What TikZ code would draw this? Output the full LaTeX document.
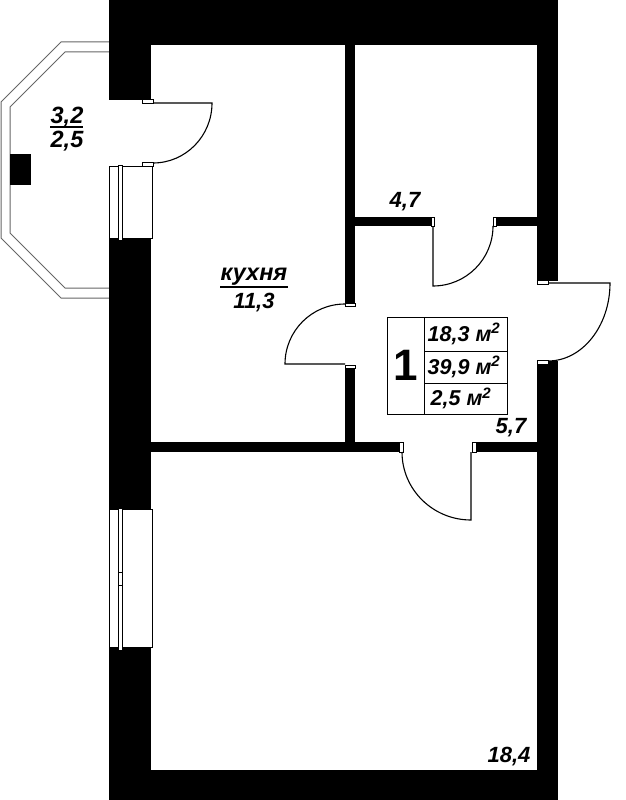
\documentclass[tikz,border=0pt]{standalone}
\usepackage{fontspec}
\setmainfont{Liberation Sans}
\usetikzlibrary{positioning}

\begin{document}
\begin{tikzpicture}[x=1pt,y=-1pt,
wall/.style={fill=black},
jamb/.style={draw,fill=white,line width=.8pt},
leaf/.style={draw,line width=1.1pt},
glass/.style={draw,fill=white,line width=1pt},
balcony/.style={draw=black!60,line width=1pt},
area/.style={inner sep=0pt,font=\fontsize{22}{22}\selectfont\bfseries\itshape},
box/.style={draw,line width=1pt,inner sep=0pt,outer sep=0pt,minimum width=83pt,font=\fontsize{21.5}{21.5}\selectfont\bfseries\itshape}]
\useasboundingbox (0,0) rectangle (625,800);
% balcony
\draw [balcony] (109,42) -- (61,42) -- (1,102) -- (1,238) -- (61,298) -- (109,298);
\draw [balcony] (109,52) -- (65,52) -- (10,107) -- (10,233) -- (65,288) -- (109,288);
\fill [wall] (10,154) rectangle (31,185);
% outer walls
\fill [wall] (109,0) rectangle (558,45);
\fill [wall] (109,0) rectangle (151,100);
\fill [wall] (109,238) rectangle (151,800);
\fill [wall] (109,770) rectangle (558,800);
\fill [wall] (537,0) rectangle (558,281);
\fill [wall] (537,361) rectangle (558,800);
% partitions
\fill [wall] (345,45) rectangle (355,303);
\fill [wall] (345,365) rectangle (355,442);
\fill [wall] (355,217) rectangle (431,226);
\fill [wall] (495,217) rectangle (537,226);
\fill [wall] (151,442) rectangle (400,452);
\fill [wall] (472,442) rectangle (537,452);
% windows
\draw [glass] (109,166) rectangle (152,238);
\draw [glass] (118,165) rectangle (122,240);
\draw [glass] (109,509) rectangle (152,647);
\draw [glass] (118,508) rectangle (122,650);
\draw [glass] (118,572) rectangle (122,585);
% doors
\draw [jamb] (142,99) rectangle (153,103);
\draw [jamb] (142,162) rectangle (153,166);
\draw [leaf] (153,103) -- (212,103) arc (0:-90:59pt and 60pt);
\draw [jamb] (431,217) rectangle (434,226);
\draw [jamb] (493,217) rectangle (496,226);
\draw [leaf] (433,226) -- (433,286) arc (-90:0:60pt);
\draw [jamb] (345,303) rectangle (355,306);
\draw [jamb] (345,365) rectangle (355,368);
\draw [leaf] (345,364) -- (285,364) arc (180:90:60pt);
\draw [jamb] (537,280) rectangle (548,284);
\draw [jamb] (537,360) rectangle (548,364);
\draw [leaf] (548,283) -- (610,283) arc (0:-90:62pt and 78pt);
\draw [jamb] (399,442) rectangle (403,452);
\draw [jamb] (472,442) rectangle (476,452);
\draw [leaf] (471,452) -- (471,520) arc (-90:-180:69pt and 68pt);
% room labels
\node (balcarea) [area,font=\fontsize{23.5}{23.5}\selectfont\bfseries\itshape] at (67,117) {3,2};
\node (balcarea2) [area,font=\fontsize{23.5}{23.5}\selectfont\bfseries\itshape] at (67,141) {2,5};
\draw [line width=2pt] (50,127) -- (83,127);
\node (kitchen) [area,font=\fontsize{23.5}{23.5}\selectfont\bfseries\itshape] at (254,277) {кухня};
\node (kitchenarea) [area] at (254,303) {11,3};
\draw [line width=2pt] (220,287) -- (288,287);
\node (closet) [area] at (405,202) {4,7};
\node (hall) [area] at (511,428) {5,7};
\node (bedroom) [area] at (509,757) {18,4};
% flat table
\node (flat) [draw,line width=1pt,outer sep=0pt,anchor=north west,minimum width=37pt,minimum height=97pt,inner sep=0pt,font=\fontsize{44}{44}\selectfont\bfseries] at (387,317) {1};
\node (living) [box,anchor=north west,minimum height=34pt] at (flat.north east) {18,3 м\textsuperscript{2}\kern3pt};
\node (total) [box,minimum height=32pt,below=0pt of living] {39,9 м\textsuperscript{2}\kern3pt};
\node (balc) [box,minimum height=31pt,below=0pt of total] {2,5 м\textsuperscript{2}\kern9pt};
\end{tikzpicture}
\end{document}
